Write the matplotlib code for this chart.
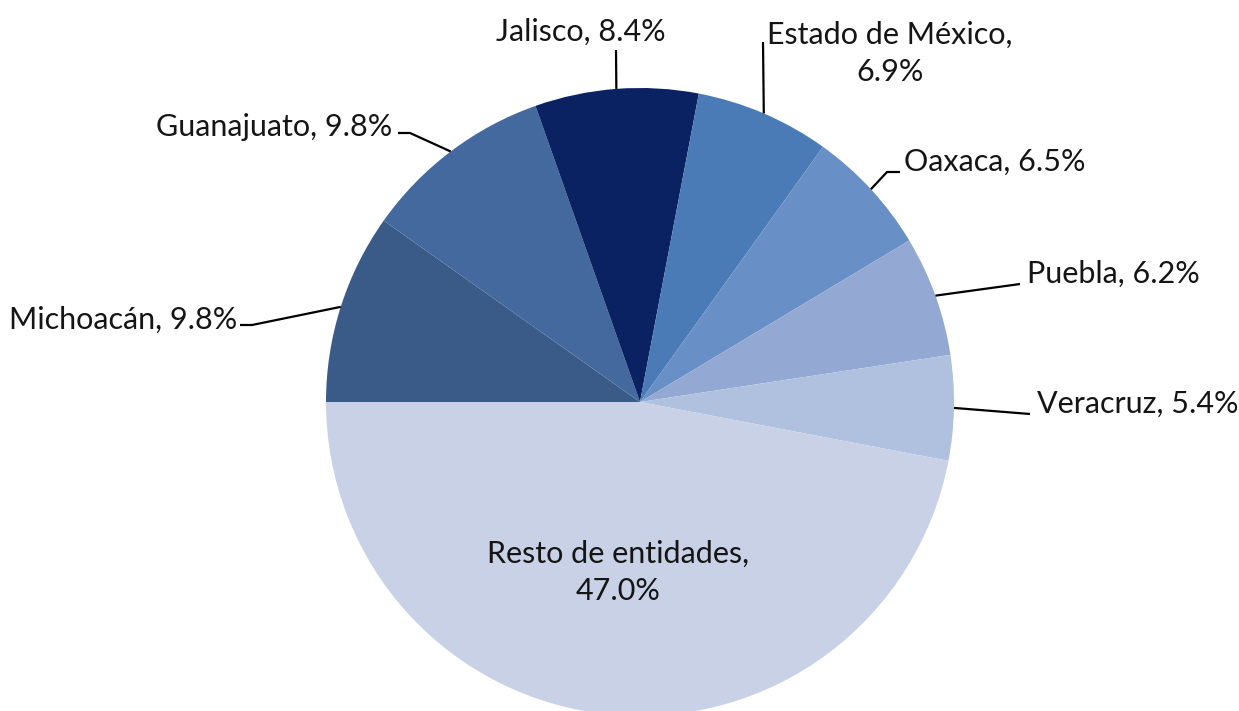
import numpy as np
import matplotlib.pyplot as plt

# datos (porcentaje por entidad)
entidades = ["Michoacán", "Guanajuato", "Jalisco", "Estado de México",
             "Oaxaca", "Puebla", "Veracruz", "Resto de entidades"]
porcentajes = [9.8, 9.8, 8.4, 6.9, 6.5, 6.2, 5.4, 47.0]
colores = ["#3A5A88", "#44699E", "#0B2262", "#4A7BB7",
           "#6890C6", "#93A9D3", "#B0C1E0", "#C9D1E6"]
etiquetas = ["Michoacán, 9.8%", "Guanajuato, 9.8%", "Jalisco, 8.4%",
             "Estado de México,\n6.9%", "Oaxaca, 6.5%", "Puebla, 6.2%",
             "Veracruz, 5.4%", "Resto de entidades,\n47.0%"]

plt.rcParams['font.family'] = ['Lato', 'DejaVu Sans']

fig = plt.figure(figsize=(12.39, 7.11), dpi=100)
ax = fig.add_axes([0, 0, 1, 1])
ax.set_aspect('equal')
ax.axis('off')

cx, cy, r = 640, 309, 314
wedges, _ = ax.pie(porcentajes, colors=colores, startangle=180, counterclock=False,
                   center=(cx, cy), radius=r, wedgeprops=dict(linewidth=0))
ax.set_xlim(0, 1239)
ax.set_ylim(0, 711)

# posiciones de texto y codos de las lineas guia (pixeles, y desde abajo)
texto_pos = [(237, 391, 'right'), (392, 584, 'right'), (581, 679, 'center'),
             (890, 658, 'center'), (904, 549, 'left'), (1027, 437, 'left'),
             (1037, 307, 'left'), (618, 139, 'center')]
codos = [[(252, 386), (240, 386)], [(410, 578), (398, 578)], [(616, 661)],
         [(763, 669)], [(887, 539), (900, 539)], [(1020, 427)],
         [(1030, 297)], None]

fs = 22
for w, lab, (tx, ty, ha), codo in zip(wedges, etiquetas, texto_pos, codos):
    ang = np.deg2rad((w.theta1 + w.theta2) / 2)
    if codo is not None:
        ex, ey = cx + r * np.cos(ang), cy + r * np.sin(ang)
        xs = [ex] + [p[0] for p in codo]
        ys = [ey] + [p[1] for p in codo]
        ax.plot(xs, ys, color='black', lw=1.6, solid_capstyle='butt')
    ax.text(tx, ty, lab, ha=ha, va='center', fontsize=fs, color='#151515',
            linespacing=1.4)

fig.savefig("out.png", dpi=100)
